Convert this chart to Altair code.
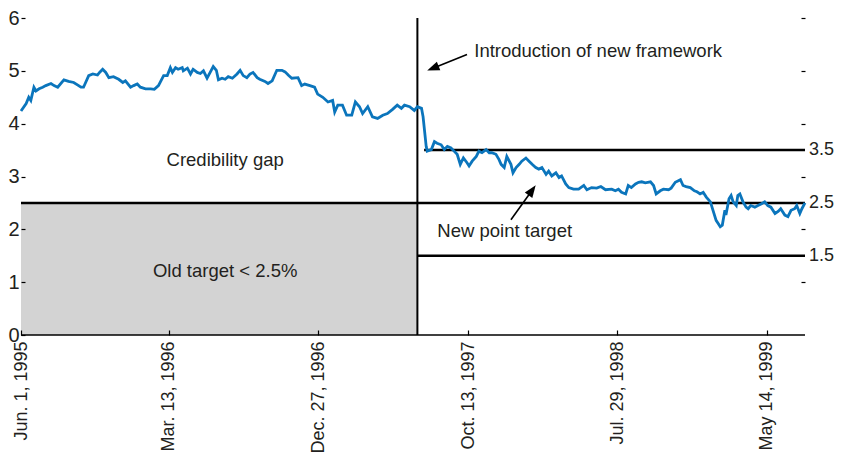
import altair as alt
import pandas as pd

# ---------------- data ----------------
START = "1995-06-01"
END = "1999-07-27"
FRAMEWORK = "1997-07-07"      # introduction of the new framework
BAND_START = "1997-07-20"     # where the 3.5 line begins

# days since Jun. 1, 1995
day_offsets = [
    0, 10, 15, 19, 25, 29, 35, 42, 48, 58, 64, 71, 83, 92, 102, 110, 116, 121, 131, 139,
    148, 152, 158, 164, 170, 179, 189, 197, 202, 212, 218, 225, 231, 241, 251, 258, 266, 276, 283, 289,
    293, 299, 304, 312, 314, 322, 328, 333, 341, 347, 353, 360, 366, 372, 378, 382, 389, 395, 401, 409,
    418, 424, 430, 437, 443, 449, 457, 462, 472, 478, 486, 495, 505, 511, 518, 524, 536, 543, 549, 559,
    568, 574, 584, 594, 603, 607, 613, 622, 630, 640, 647, 655, 661, 671, 680, 690, 700, 709, 719, 728,
    736, 742, 752, 761, 767, 775, 778, 784, 786, 794, 800, 805, 813, 819, 825, 832, 838, 844, 850, 856,
    863, 867, 873, 881, 886, 892, 900, 906, 911, 919, 925, 929, 935, 940, 948, 952, 958, 964, 969, 977,
    983, 989, 996, 1002, 1008, 1016, 1021, 1027, 1035, 1041, 1046, 1054, 1060, 1069, 1079, 1089, 1095, 1104, 1114, 1122,
    1131, 1143, 1150, 1156, 1162, 1170, 1175, 1181, 1189, 1195, 1201, 1208, 1218, 1224, 1229, 1237, 1243, 1253, 1258, 1266,
    1276, 1281, 1287, 1295, 1303, 1308, 1314, 1320, 1326, 1334, 1339, 1345, 1349, 1353, 1357, 1362, 1364, 1370, 1374, 1378,
    1384, 1387, 1391, 1397, 1403, 1407, 1412, 1420, 1426, 1432, 1439, 1445, 1451, 1459, 1465, 1470, 1478, 1484, 1490, 1497,
    1501, 1507, 1511, 1517,
]
values = [
    4.24, 4.38, 4.50, 4.44, 4.69, 4.62, 4.66, 4.69, 4.72, 4.76, 4.72, 4.69, 4.83, 4.80, 4.78, 4.73, 4.69, 4.69, 4.91, 4.94,
    4.92, 4.97, 5.03, 4.97, 4.87, 4.89, 4.84, 4.78, 4.81, 4.69, 4.72, 4.75, 4.69, 4.66, 4.66, 4.65, 4.72, 4.91, 4.91, 5.06,
    4.97, 5.06, 5.03, 5.06, 5.00, 5.05, 4.94, 5.03, 4.97, 4.95, 5.00, 4.86, 4.97, 5.08, 5.01, 4.83, 4.86, 4.84, 4.89, 4.86,
    4.94, 5.01, 4.91, 4.87, 4.94, 4.97, 4.87, 4.84, 4.80, 4.76, 4.81, 5.01, 5.01, 4.98, 4.91, 4.86, 4.87, 4.72, 4.75, 4.72,
    4.69, 4.56, 4.50, 4.41, 4.44, 4.22, 4.35, 4.35, 4.16, 4.16, 4.41, 4.32, 4.19, 4.32, 4.13, 4.10, 4.16, 4.19, 4.27, 4.35,
    4.29, 4.35, 4.32, 4.25, 4.32, 4.29, 4.13, 3.57, 3.48, 3.51, 3.66, 3.63, 3.60, 3.51, 3.57, 3.54, 3.48, 3.42, 3.23, 3.35,
    3.26, 3.20, 3.29, 3.38, 3.48, 3.45, 3.51, 3.45, 3.45, 3.42, 3.32, 3.23, 3.17, 3.38, 3.23, 3.07, 3.17, 3.23, 3.29, 3.35,
    3.29, 3.23, 3.17, 3.14, 3.17, 3.04, 3.10, 3.01, 3.07, 2.98, 3.01, 2.86, 2.79, 2.76, 2.76, 2.83, 2.75, 2.79, 2.78, 2.81,
    2.75, 2.76, 2.73, 2.76, 2.70, 2.67, 2.83, 2.79, 2.86, 2.89, 2.90, 2.88, 2.90, 2.83, 2.67, 2.73, 2.76, 2.75, 2.78, 2.89,
    2.94, 2.83, 2.81, 2.79, 2.73, 2.71, 2.67, 2.70, 2.61, 2.52, 2.36, 2.17, 2.11, 2.05, 2.08, 2.36, 2.27, 2.58, 2.64, 2.52,
    2.45, 2.64, 2.67, 2.52, 2.42, 2.39, 2.45, 2.42, 2.45, 2.48, 2.52, 2.45, 2.42, 2.30, 2.34, 2.39, 2.27, 2.24, 2.36, 2.39,
    2.45, 2.30, 2.39, 2.50,
]
assert len(day_offsets) == len(values)

tick_dates = ["1995-06-01", "1996-03-13", "1996-12-27", "1997-10-13", "1998-07-29", "1999-05-14"]
y_ticks = [0, 1, 2, 3, 4, 5, 6]
right_ticks = [1, 2, 3, 4, 5, 6]

target_levels = [2.5, 3.5, 1.5]
target_labels = ["2.5", "3.5", "1.5"]
target_starts = [START, BAND_START, FRAMEWORK]

old_target_top = 2.5
y_max = 6

ann_texts = ["Credibility gap", "Old target < 2.5%", "New point target"]
ann_dates = ["1996-06-30", "1996-06-30", "1997-12-23"]
ann_values = [3.32, 1.21, 1.96]

intro_text = ["Introduction of new framework"]
intro_date = ["1997-10-25"]
intro_value = [5.37]

arrow_tail_dates = ["1997-10-11", "1998-01-04"]
arrow_tail_values = [5.31, 2.18]
arrow_head_dates = ["1997-08-06", "1998-02-14"]
arrow_head_values = [5.05, 2.74]
arrow_angles = [248, 35.5]

# ---------------- styling ----------------
FONT = "Liberation Sans"
TXT = "#231f20"
BLUE = "#0b75bc"


def ts(s):
    return pd.Timestamp(s)


def dt(s):
    t = pd.Timestamp(s)
    return alt.DateTime(year=t.year, month=t.month, date=t.day)


xscale = alt.Scale(domain=[dt(START), dt(END)])
xaxis = alt.Axis(
    values=[dt(d) for d in tick_dates],
    labelExpr="timeFormat(datum.value, '%m') == '05' ? timeFormat(datum.value, '%b %-d, %Y') : timeFormat(datum.value, '%b. %-d, %Y')",
    labelAngle=-90, labelFont=FONT, labelFontSize=18, labelColor=TXT,
    labelPadding=6, labelOverlap=False, labelBound=False,
    tickSize=5, tickColor="#000000", tickWidth=1.2, offset=-5,
    domain=False, grid=False, title=None, zindex=1,
)
yscale = alt.Scale(domain=[0, y_max], nice=False, zero=True)
left_axis = alt.Axis(
    values=y_ticks, tickSize=4, offset=-4, domain=False, grid=False,
    labelFont=FONT, labelFontSize=20, labelColor=TXT, labelPadding=2,
    tickColor="#000000", tickWidth=1.2, title=None, zindex=1,
)
right_axis = alt.Axis(
    orient="right", values=right_ticks, tickSize=4, offset=-4, domain=False,
    grid=False, labels=False, tickColor="#000000", tickWidth=1.2, title=None, zindex=1,
)


def X(field):
    return alt.X(f"{field}:T", scale=xscale, axis=xaxis, title=None)


def Y(field, axis=None):
    return alt.Y(f"{field}:Q", scale=yscale, axis=axis, title=None)


series = pd.DataFrame({
    "date": ts(START) + pd.to_timedelta(day_offsets, unit="D"),
    "value": values,
})

rect_df = pd.DataFrame({"x": [ts(START)], "x2": [ts(FRAMEWORK)], "y": [0.0], "y2": [old_target_top]})
rect = alt.Chart(rect_df).mark_rect(color="#d3d3d3").encode(
    x=X("x"), x2="x2", y=Y("y", left_axis), y2="y2")

hl_df = pd.DataFrame({
    "x": [ts(d) for d in target_starts],
    "x2": [ts(END)] * 3,
    "y": target_levels,
    "label": target_labels,
})
hlines = alt.Chart(hl_df).mark_rule(color="#000000", strokeWidth=2.5).encode(
    x=X("x"), x2="x2", y=Y("y", right_axis))

right_labels = alt.Chart(hl_df).mark_text(
    align="left", baseline="middle", dx=4, font=FONT, fontSize=18, color=TXT
).encode(x=X("x2"), y=Y("y"), text="label:N")

vl_df = pd.DataFrame({"x": [ts(FRAMEWORK)], "y": [0.0], "y2": [float(y_max)]})
vline = alt.Chart(vl_df).mark_rule(color="#000000", strokeWidth=2).encode(
    x=X("x"), y=Y("y"), y2="y2")

base_df = pd.DataFrame({"x": [ts(START)], "x2": [ts(END)], "y": [0.0]})
baseline = alt.Chart(base_df).mark_rule(color="#000000", strokeWidth=1.5).encode(
    x=X("x"), x2="x2", y=Y("y"))

line = alt.Chart(series).mark_line(color=BLUE, strokeWidth=2.8).encode(
    x=X("date"), y=Y("value"))

ann_df = pd.DataFrame({"x": [ts(d) for d in ann_dates], "y": ann_values, "t": ann_texts})
ann = alt.Chart(ann_df).mark_text(
    align="center", baseline="middle", font=FONT, fontSize=18.5, color=TXT
).encode(x=X("x"), y=Y("y"), text="t:N")

intro_df = pd.DataFrame({"x": [ts(d) for d in intro_date], "y": intro_value, "t": intro_text})
intro = alt.Chart(intro_df).mark_text(
    align="left", baseline="middle", font=FONT, fontSize=18.5, color=TXT
).encode(x=X("x"), y=Y("y"), text="t:N")

arr_df = pd.DataFrame({
    "x": [ts(d) for d in arrow_tail_dates], "y": arrow_tail_values,
    "x2": [ts(d) for d in arrow_head_dates], "y2": arrow_head_values,
    "angle": arrow_angles,
})
shafts = alt.Chart(arr_df).mark_rule(color="#000000", strokeWidth=1.6).encode(
    x=X("x"), x2="x2", y=Y("y"), y2="y2")
heads = alt.Chart(arr_df).mark_point(
    shape="M0,-1L0.75,1L-0.75,1Z", filled=True, size=150, color="#000000", opacity=1, strokeWidth=0
).encode(x=X("x2"), y=Y("y2"), angle=alt.Angle("angle:Q", scale=None))

chart = alt.layer(
    rect, hlines, vline, line, baseline, ann, intro, right_labels, shafts, heads
).resolve_scale(y="independent").properties(
    width=784, height=317,
    padding={"left": 13, "top": 10, "right": 29, "bottom": 119},
    autosize=alt.AutoSizeParams(type="none"),
    background="#ffffff",
).configure_view(stroke=None)

chart.save("out.html", embed_options={"renderer": "svg", "actions": False})
